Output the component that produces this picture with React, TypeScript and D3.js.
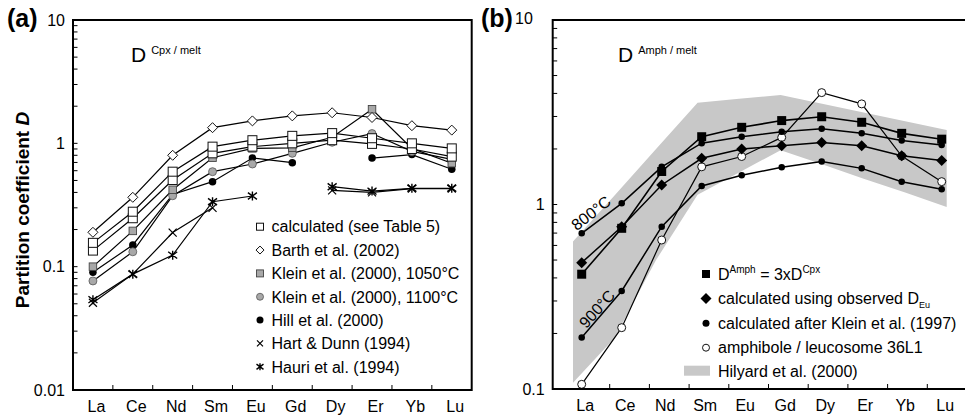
import React from 'react';
import * as d3 from 'd3';

// Rare earth elements on the x axis
const REE = ['La', 'Ce', 'Nd', 'Sm', 'Eu', 'Gd', 'Dy', 'Er', 'Yb', 'Lu'];

// Panel (a): D Cpx/melt
const cpxCalcHigh = [0.156, 0.279, 0.589, 0.94, 1.06, 1.15, 1.21, 1.1, 1.0, 0.91];
const cpxCalcLow = [0.135, 0.247, 0.504, 0.83, 0.94, 1.0, 1.06, 0.99, 0.9, 0.78];
const barth2002 = [0.19, 0.365, 0.8, 1.34, 1.52, 1.67, 1.77, 1.62, 1.39, 1.28];
const klein1050 = [0.1, 0.195, 0.42, 0.765, 0.91, 0.92, 1.12, 1.89, 0.91, 0.69];
const klein1100 = [0.0766, 0.132, 0.376, 0.589, 0.68, 0.83, 1.02, 1.2, 0.86, 0.74];
const hill2000 = [0.09, 0.15, 0.385, 0.489, 0.76, 0.697, null, 0.76, 0.81, 0.616];
const hartDunn1994 = [0.051, 0.087, 0.189, 0.3, null, null, 0.415, 0.4, 0.43, 0.43];
const hauri1994 = [0.054, 0.087, 0.124, 0.336, 0.374, null, 0.445, 0.41, 0.432, 0.432];

// Panel (b): D Amph/melt
const amph3xCpx = [0.419, 0.743, 1.51, 2.33, 2.62, 2.85, 2.99, 2.79, 2.43, 2.26];
const amphObsEu = [0.484, 0.758, 1.276, 1.78, 2.0, 2.08, 2.17, 2.08, 1.84, 1.73];
const klein800 = [0.698, 1.015, 1.6, 2.15, 2.33, 2.48, 2.57, 2.43, 2.22, 2.1];
const klein900 = [0.19, 0.34, 0.758, 1.26, 1.44, 1.59, 1.71, 1.57, 1.33, 1.21];
const leucosome36L1 = [0.106, 0.215, 0.642, 1.6, 1.82, 2.31, 4.04, 3.51, 1.83, 1.33];
const hilyardUpper = [0.63, 1.12, 2.0, 3.56, 3.74, 3.92, 3.52, 3.15, 2.83, 2.53];
const hilyardLower = [0.108, 0.189, 0.5, 1.13, 1.49, 1.97, 1.65, 1.38, 1.16, 0.97];

const aTicks = [0.01, 0.1, 1, 10];
const aTickLabels = ['0.01', '0.1', '1', '10'];
const bTicks = [0.1, 1, 10];
const bTickLabels = ['0.1', '1', '10'];

const FONT = '"Liberation Sans", Arial, Helvetica, sans-serif';
const GRAY = '#a8a8a8';
const BAND = '#c8c8c8';

// ---- scales
const aL = 73, aR = 471.7, aT = 20, aB = 390;
const xA = d3.scaleBand<string>().domain(REE).range([aL, aR]);
const yA = d3.scaleLog().domain([0.01, 10]).range([aB, aT]);
const cxA = (d: string) => (xA(d) as number) + xA.bandwidth() / 2;

const bL = 552.7, bR = 965, bT = 20, bB = 389;
const xB = d3.scaleBand<string>().domain(REE).range([561.7, 961.7]);
const cxB = (d: string) => (xB(d) as number) + xB.bandwidth() / 2;
const xBand = d3.scalePoint<string>().domain(REE).range([573, 946.7]);
const xTickB = d3.scaleBand<string>().domain(REE).range([570, 967]);
const yB = d3.scaleLog().domain([0.1, 10]).range([bB, bT]);

type Kind =
  | 'openSquare' | 'graySquare' | 'blackSquare'
  | 'diamond' | 'blackDiamond'
  | 'grayCircle' | 'blackCircle' | 'openCircle'
  | 'cross' | 'asterisk';

function Marker({ kind, x, y, s }: { kind: Kind; x: number; y: number; s: number }) {
  const h = s / 2;
  switch (kind) {
    case 'openSquare':
      return <rect x={x - h} y={y - h} width={s} height={s} fill="#fff" stroke="#111" strokeWidth={1} />;
    case 'graySquare':
      return <rect x={x - h} y={y - h} width={s} height={s} fill={GRAY} stroke="#444" strokeWidth={0.9} />;
    case 'blackSquare':
      return <rect x={x - h} y={y - h} width={s} height={s} fill="#000" />;
    case 'diamond':
      return <path d={`M${x},${y - h}L${x + h},${y}L${x},${y + h}L${x - h},${y}Z`} fill="#fff" stroke="#111" strokeWidth={1} />;
    case 'blackDiamond':
      return <path d={`M${x},${y - h}L${x + h},${y}L${x},${y + h}L${x - h},${y}Z`} fill="#000" />;
    case 'grayCircle':
      return <circle cx={x} cy={y} r={h} fill={GRAY} stroke="#555" strokeWidth={0.8} />;
    case 'blackCircle':
      return <circle cx={x} cy={y} r={h} fill="#000" />;
    case 'openCircle':
      return <circle cx={x} cy={y} r={h} fill="#fff" stroke="#111" strokeWidth={1} />;
    case 'cross':
      return <path d={`M${x - h},${y - h}L${x + h},${y + h}M${x + h},${y - h}L${x - h},${y + h}`} stroke="#000" strokeWidth={1.2} fill="none" />;
    case 'asterisk':
      return (
        <path
          d={`M${x - h},${y - h * 0.75}L${x + h},${y + h * 0.75}M${x + h},${y - h * 0.75}L${x - h},${y + h * 0.75}M${x},${y - h}L${x},${y + h}`}
          stroke="#000" strokeWidth={1.4} fill="none"
        />
      );
  }
  return null;
}

type Series = { name: string; values: (number | null)[]; kind: Kind; size: number; lw: number };

const seriesA: Series[] = [
  { name: 'Hart & Dunn (1994)', values: hartDunn1994, kind: 'cross', size: 8, lw: 1.2 },
  { name: 'Hauri et al. (1994)', values: hauri1994, kind: 'asterisk', size: 9, lw: 1.2 },
  { name: 'Hill et al. (2000)', values: hill2000, kind: 'blackCircle', size: 7.5, lw: 1.2 },
  { name: 'Klein et al. (2000), 1100°C', values: klein1100, kind: 'grayCircle', size: 8, lw: 1.2 },
  { name: 'Klein et al. (2000), 1050°C', values: klein1050, kind: 'graySquare', size: 7.5, lw: 1.2 },
  { name: 'calc low', values: cpxCalcLow, kind: 'openSquare', size: 9, lw: 1.2 },
  { name: 'calc high', values: cpxCalcHigh, kind: 'openSquare', size: 9, lw: 1.2 },
  { name: 'Barth et al. (2002)', values: barth2002, kind: 'diamond', size: 10, lw: 1.2 },
];

const seriesB: Series[] = [
  { name: '900', values: klein900, kind: 'blackCircle', size: 6.5, lw: 1.5 },
  { name: 'leucosome', values: leucosome36L1, kind: 'openCircle', size: 8, lw: 1.2 },
  { name: 'obsEu', values: amphObsEu, kind: 'blackDiamond', size: 11, lw: 1.5 },
  { name: '800', values: klein800, kind: 'blackCircle', size: 6.5, lw: 1.5 },
  { name: '3x', values: amph3xCpx, kind: 'blackSquare', size: 9, lw: 1.6 },
];

const legendA: { label: string; kind: Kind; size: number }[] = [
  { label: 'calculated (see Table 5)', kind: 'openSquare', size: 7 },
  { label: 'Barth et al. (2002)', kind: 'diamond', size: 8 },
  { label: 'Klein et al. (2000), 1050°C', kind: 'graySquare', size: 7 },
  { label: 'Klein et al. (2000), 1100°C', kind: 'grayCircle', size: 7 },
  { label: 'Hill et al. (2000)', kind: 'blackCircle', size: 7 },
  { label: 'Hart & Dunn (1994)', kind: 'cross', size: 6 },
  { label: 'Hauri et al. (1994)', kind: 'asterisk', size: 7 },
];

function linePath(values: (number | null)[], cx: (d: string) => number, y: d3.ScaleLogarithmic<number, number>) {
  const gen = d3
    .line<[string, number | null]>()
    .defined((d) => d[1] != null)
    .x((d) => cx(d[0]))
    .y((d) => y(d[1] as number));
  return gen(REE.map((r, i) => [r, values[i]])) || '';
}

function LogAxisLeft({ y, x, lo, hi, majors, labels }: {
  y: d3.ScaleLogarithmic<number, number>; x: number; lo: number; hi: number; majors: number[]; labels: string[];
}) {
  const minors = y.ticks().filter((t) => t >= lo && t <= hi);
  return (
    <g>
      {minors.map((t, i) => (
        <line key={'m' + i} x1={x} x2={x + 4.5} y1={y(t)} y2={y(t)} stroke="#000" strokeWidth={1} />
      ))}
      {majors.map((t, i) => (
        <text key={'l' + i} x={x - 8} y={y(t)} dy="0.36em" textAnchor="end" fontSize={16} fontFamily={FONT}>
          {labels[i]}
        </text>
      ))}
    </g>
  );
}

export default function App() {
  const tickBoundsA = REE.slice(1).map((d) => xA(d) as number);
  const tickBoundsB = REE.slice(1).map((d) => xTickB(d) as number);

  const bandPath =
    'M' +
    REE.map((r, i) => `${xBand(r)},${yB(hilyardUpper[i])}`).join('L') +
    'L' +
    REE.map((r, i) => `${xBand(r)},${yB(hilyardLower[i])}`).reverse().join('L') +
    'Z';

  const legRowA = (i: number) => 226.7 + i * 23.35;
  const legRowB = [274, 298.5, 323.3, 347.7, 371];

  return (
    <svg
      width={965}
      height={417}
      viewBox="0 0 965 417"
      style={{ position: 'absolute', left: 0, top: 0, background: '#fff' }}
      fontFamily={FONT}
    >
      <rect x={0} y={0} width={965} height={417} fill="#fff" />

      {/* ---------- Panel (a) ---------- */}
      <text x={7} y={27} fontSize={25} fontWeight="bold">(a)</text>
      <text
        transform={`translate(28.5,${(aT + aB) / 2 + 5}) rotate(-90)`}
        textAnchor="middle"
        fontSize={19}
        fontWeight="bold"
      >
        Partition coefficient <tspan fontStyle="italic">D</tspan>
      </text>
      <text x={131} y={61.7} fontSize={21}>
        D<tspan dx={5} dy={-8} fontSize={11}>Cpx / melt</tspan>
      </text>

      <LogAxisLeft y={yA} x={aL} lo={0.01} hi={10} majors={aTicks} labels={aTickLabels} />
      {tickBoundsA.map((t, i) => (
        <line key={i} x1={t} x2={t} y1={aB} y2={aB - 5} stroke="#000" strokeWidth={1} />
      ))}
      {REE.map((r) => (
        <text key={r} x={cxA(r) + 3.5} y={411.5} textAnchor="middle" fontSize={16}>
          {r}
        </text>
      ))}

      {seriesA.map((s) => (
        <path key={'l' + s.name} d={linePath(s.values, cxA, yA)} fill="none" stroke="#000" strokeWidth={s.lw} />
      ))}
      {seriesA.map((s) =>
        REE.map((r, i) =>
          s.values[i] == null ? null : (
            <Marker key={s.name + r} kind={s.kind} x={cxA(r)} y={yA(s.values[i] as number)} s={s.size} />
          )
        )
      )}
      <rect x={aL} y={aT} width={aR - aL} height={aB - aT} fill="none" stroke="#000" strokeWidth={2} />

      {legendA.map((e, i) => (
        <g key={e.label}>
          <Marker kind={e.kind} x={260} y={legRowA(i)} s={e.size} />
          <text x={271.5} y={legRowA(i)} dy="0.36em" fontSize={16}>
            {e.label}
          </text>
        </g>
      ))}

      {/* ---------- Panel (b) ---------- */}
      <text x={481} y={27} fontSize={25} fontWeight="bold">(b)</text>
      <path d={bandPath} fill={BAND} />
      <text x={618} y={61.7} fontSize={21}>
        D<tspan dx={5} dy={-8} fontSize={11}>Amph / melt</tspan>
      </text>

      <LogAxisLeft y={yB} x={bL} lo={0.1} hi={10} majors={bTicks.slice(0, 2)} labels={bTickLabels.slice(0, 2)} />
      <text x={515} y={yB(10) - 2} dy="0.36em" textAnchor="start" fontSize={16}>
        {bTickLabels[2]}
      </text>
      {tickBoundsB.map((t, i) => (
        <line key={i} x1={t} x2={t} y1={bB} y2={bB - 5} stroke="#000" strokeWidth={1} />
      ))}
      {REE.map((r) => (
        <text key={r} x={cxB(r) + 3.5} y={411} textAnchor="middle" fontSize={16}>
          {r}
        </text>
      ))}

      <text transform="translate(591,213) rotate(-38)" textAnchor="middle" dy="0.35em" fontSize={16}>
        800°C
      </text>
      <text transform="translate(597,309) rotate(-48)" textAnchor="middle" dy="0.35em" fontSize={16}>
        900°C
      </text>

      {seriesB.map((s) => (
        <path key={'l' + s.name} d={linePath(s.values, cxB, yB)} fill="none" stroke="#000" strokeWidth={s.lw} />
      ))}
      {seriesB.map((s) =>
        REE.map((r, i) =>
          s.values[i] == null ? null : (
            <Marker key={s.name + r} kind={s.kind} x={cxB(r)} y={yB(s.values[i] as number)} s={s.size} />
          )
        )
      )}
      <path d={`M${bR},${bT}H${bL}V${bB}H${bR}`} fill="none" stroke="#000" strokeWidth={2} />

      {/* legend (b) */}
      <Marker kind="blackSquare" x={706} y={legRowB[0]} s={8} />
      <text x={718} y={legRowB[0]} dy="0.36em" fontSize={16}>
        D<tspan dy={-7} fontSize={10}>Amph</tspan>
        <tspan dy={7}> = 3xD</tspan>
        <tspan dy={-7} fontSize={10}>Cpx</tspan>
      </text>
      <Marker kind="blackDiamond" x={706} y={legRowB[1]} s={11} />
      <text x={718} y={legRowB[1]} dy="0.36em" fontSize={16}>
        calculated using observed D<tspan dy={4} fontSize={9}>Eu</tspan>
      </text>
      <Marker kind="blackCircle" x={706} y={legRowB[2]} s={7} />
      <text x={718} y={legRowB[2]} dy="0.36em" fontSize={16}>
        calculated after Klein et al. (1997)
      </text>
      <Marker kind="openCircle" x={706} y={legRowB[3]} s={7} />
      <text x={718} y={legRowB[3]} dy="0.36em" fontSize={16}>
        amphibole / leucosome 36L1
      </text>
      <rect x={684} y={365.7} width={26} height={10} fill={BAND} />
      <text x={718} y={legRowB[4]} dy="0.36em" fontSize={16}>
        Hilyard et al. (2000)
      </text>
    </svg>
  );
}
